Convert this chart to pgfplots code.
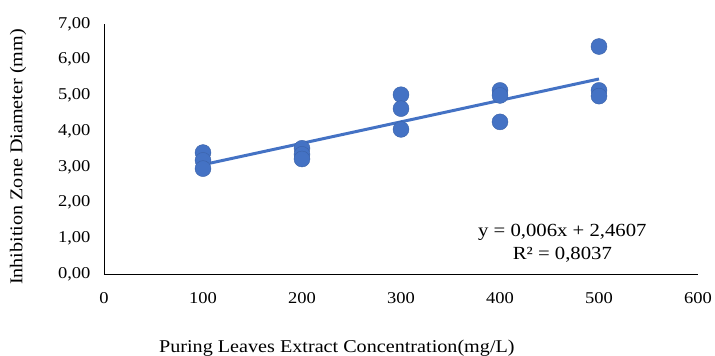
\documentclass[border=0pt]{standalone}
\usepackage{pgfplots}
\pgfplotsset{compat=1.18}
\usepackage{fontspec}
\setmainfont[FakeStretch=1.12]{Liberation Serif}
\definecolor{xlblue}{HTML}{4472C4}
\begin{document}
\begin{tikzpicture}
\path[use as bounding box] (-104bp,-82bp) rectangle (611bp,274bp);
\begin{axis}[
  at={(0,0)}, anchor=south west,
  scale only axis, width=594bp, height=250bp,
  xmin=0, xmax=600, ymin=0, ymax=7,
  xtick={0,100,...,600}, ytick={0,1,...,7},
  axis x line=bottom, axis y line=left,
  axis line style={-, black, line width=0.8pt},
  major tick length=0pt,
  tick label style={font=\fontsize{16.5bp}{19bp}\selectfont},
  label style={font=\fontsize{18bp}{21bp}\selectfont},
  /pgf/number format/assume math mode=true,
  yticklabel style={/pgf/number format/use comma, /pgf/number format/fixed, /pgf/number format/fixed zerofill, /pgf/number format/precision=2, anchor=east, xshift=-10bp},
  xticklabel style={/pgf/number format/fixed, /pgf/number format/1000 sep={}, anchor=base, yshift=-29bp},
  xlabel={Puring Leaves Extract Concentration(mg/L)},
  ylabel={Inhibition Zone Diameter (mm)},
  xlabel style={at={(axis description cs:0.392,0)}, anchor=base, yshift=-78bp},
  ylabel style={at={(axis description cs:0,0.468)}, anchor=center, yshift=86bp},
  clip=false,
]
\addplot[only marks, mark=*, mark size=8bp, mark options={fill=xlblue, draw=xlblue!85!black, line width=0.4pt}]
  coordinates {
  (100,3.40) (100,3.18) (100,2.95)
  (200,3.52) (200,3.35) (200,3.22)
  (300,5.02) (300,4.63) (300,4.05)
  (400,5.14) (400,5.00) (400,4.26)
  (500,6.37) (500,5.14) (500,4.98)
  };
\addplot[xlblue, line width=3bp] coordinates {(100,3.0607) (500,5.4607)};
\node[align=center, font=\fontsize{18.5bp}{23bp}\selectfont] at (axis cs:463,0.854)
  {y = 0,006x + 2,4607\\R² = 0,8037};
\end{axis}
\end{tikzpicture}
\end{document}
